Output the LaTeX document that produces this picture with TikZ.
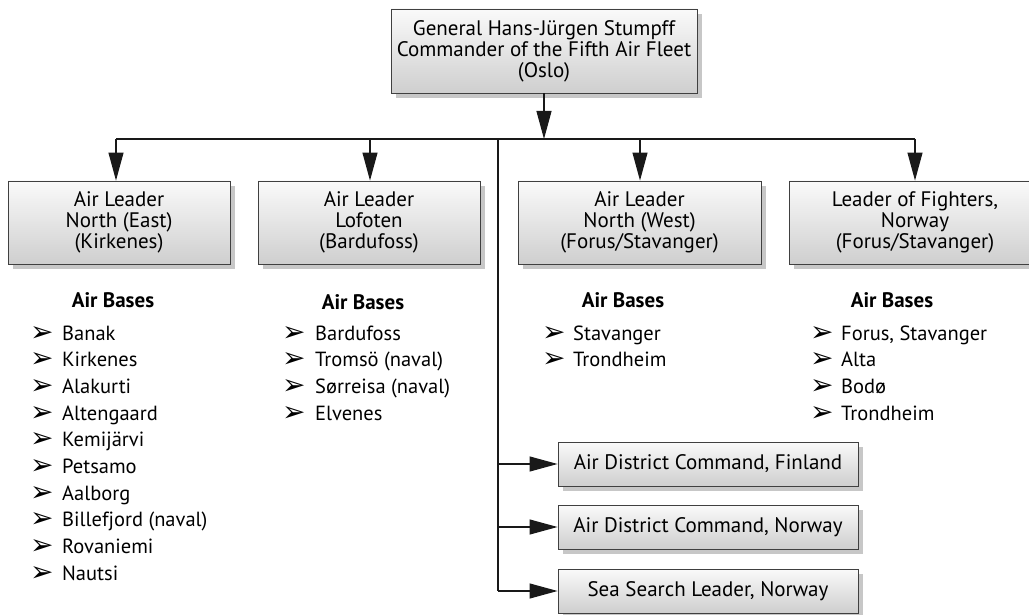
\documentclass[tikz,border=0pt]{standalone}
\usepackage{fontspec}
\setmainfont{PT Sans}
\newfontfamily\dg{DejaVu Sans}
\newcommand\bulglyph{\raisebox{-1pt}{\dg\fontsize{28}{28}\selectfont ➢}}
\usetikzlibrary{arrows.meta,shadows}
\begin{document}
\begin{tikzpicture}[x=1pt,y=-1pt,
  box/.style={draw=black!75, line width=0.9pt, top color=gray!4, bottom color=gray!38,
    drop shadow={shadow xshift=5pt, shadow yshift=-5pt, fill=black!22, opacity=1},
    align=center, font=\fontsize{21}{21}\selectfont, inner sep=0pt},
  conn/.style={line width=1.1pt, draw=black!90},
  arr/.style={conn, -{Triangle[length=28pt,width=15pt]}},
  head/.style={font=\fontsize{21}{21}\selectfont\bfseries, anchor=base, inner sep=0pt},
  item/.style={font=\fontsize{20.5}{21}\selectfont, anchor=base west, inner sep=0pt}]
\path[use as bounding box] (0,0) rectangle (1029,615);
\clip (0,0) rectangle (1029,615);
% boxes
\node[box, minimum width=306pt, minimum height=84pt] (top) at (544,51)
  {General Hans-Jürgen Stumpff\\Commander of the Fifth Air Fleet\\(Oslo)};
\node[box, minimum width=222pt, minimum height=83pt] (b1) at (119,222.5)
  {Air Leader\\North (East)\\(Kirkenes)};
\node[box, minimum width=222pt, minimum height=83pt] (b2) at (369,222.5)
  {Air Leader\\Lofoten\\(Bardufoss)};
\node[box, minimum width=243pt, minimum height=83pt] (b3) at (639.5,222.5)
  {Air Leader\\North (West)\\(Forus/Stavanger)};
\node[box, minimum width=252pt, minimum height=83pt] (b4) at (915,222.5)
  {Leader of Fighters,\\Norway\\(Forus/Stavanger)};
\node[box, minimum width=300pt, minimum height=44pt] (s1) at (708,464) {Air District Command, Finland};
\node[box, minimum width=300pt, minimum height=44pt] (s2) at (708,527) {Air District Command, Norway};
\node[box, minimum width=300pt, minimum height=44pt] (s3) at (708,591) {Sea Search Leader, Norway};
% connectors
\coordinate (hub) at (544,139);
\coordinate (h1) at (116,139);
\coordinate (h2) at (370,139);
\coordinate (h3) at (640,139);
\coordinate (h4) at (915,139);
\coordinate (t0) at (498,139);
\draw[arr] (top.south) -- (hub);
\draw[conn] (h1) -- (h4);
\draw[arr] (h1) -- (h1 |- b1.north);
\draw[arr] (h2) -- (h2 |- b2.north);
\draw[arr] (h3) -- (h3 |- b3.north);
\draw[arr] (h4) -- (h4 |- b4.north);
\draw[conn] (t0) -- (t0 |- s3.west);
\draw[arr] (t0 |- s1.west) -- (s1.west);
\draw[arr] (t0 |- s2.west) -- (s2.west);
\draw[arr] (t0 |- s3.west) -- (s3.west);
% lists
\node[head] (a1) at (113,307) {Air Bases};
\node[head] (a2) at (363,309) {Air Bases};
\node[head] (a3) at (623,307) {Air Bases};
\node[head] (a4) at (892,307) {Air Bases};
\foreach \t [count=\i from 0] in {Banak,Kirkenes,Alakurti,Altengaard,Kemijärvi,Petsamo,Aalborg,Billefjord (naval),Rovaniemi,Nautsi}
  \node[item] (l1-\i) at (30,340+26.7*\i) {\makebox[32pt][l]{\bulglyph}\t};
\foreach \t [count=\i from 0] in {Bardufoss,Tromsö (naval),Sørreisa (naval),Elvenes}
  \node[item] (l2-\i) at (282,340+26.7*\i) {\makebox[33pt][l]{\bulglyph}\t};
\foreach \t [count=\i from 0] in {Stavanger,Trondheim}
  \node[item] (l3-\i) at (542,340+26.7*\i) {\makebox[31pt][l]{\bulglyph}\t};
\foreach \t [count=\i from 0] in {{Forus, Stavanger},Alta,Bodø,Trondheim}
  \node[item] (l4-\i) at (810,340+26.7*\i) {\makebox[31pt][l]{\bulglyph}\t};
\end{tikzpicture}
\end{document}
